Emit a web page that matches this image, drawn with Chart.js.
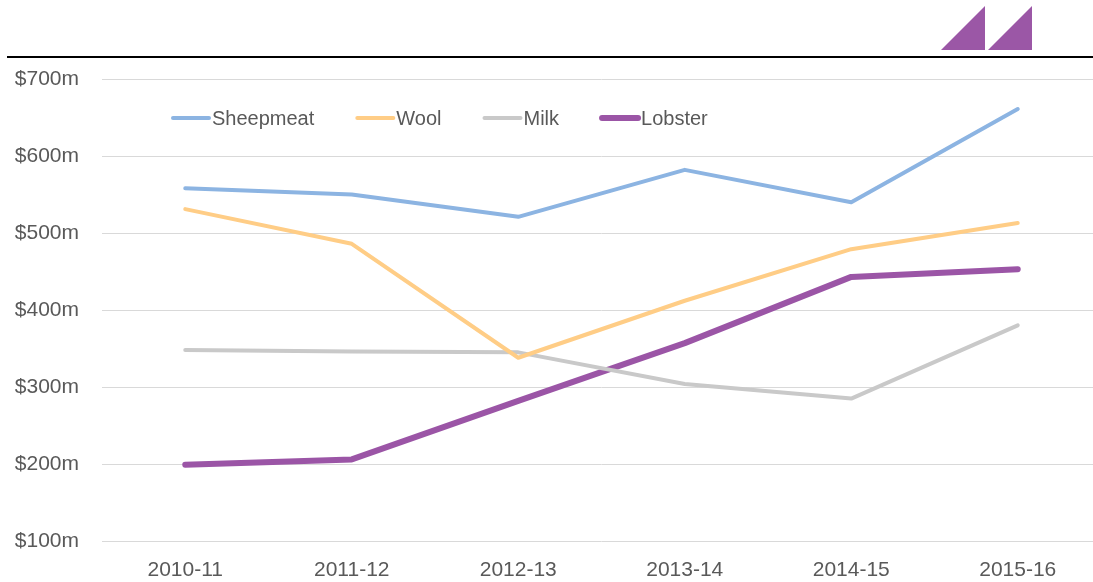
<!DOCTYPE html>
<html>
<head>
<meta charset="utf-8">
<script src="https://cdn.jsdelivr.net/npm/chart.js@4.4.1/dist/chart.umd.min.js"></script>
<style>
  html, body { margin: 0; padding: 0; background: #fff; overflow: hidden; }
  body { width: 1093px; height: 582px; position: relative; }
  #wrap { position: absolute; left: 0; top: 0; width: 1101px; height: 582px; }
  #rule { position: absolute; left: 7px; top: 56px; width: 1086px; height: 2px; background: #000; }
  #logo { position: absolute; left: 941px; top: 6px; }
</style>
</head>
<body>
<svg id="logo" width="94" height="46" viewBox="0 0 94 46">
  <polygon points="0,44 44,0 44,44" fill="#9b57a6"/>
  <polygon points="47,44 91,0 91,44" fill="#9b57a6"/>
</svg>
<div id="rule"></div>
<div id="wrap"><canvas id="chart"></canvas></div>
<script>
// ========== DATA ==========
const years = ["2010-11", "2011-12", "2012-13", "2013-14", "2014-15", "2015-16"];
const sheepmeat = [558, 550, 521, 582, 540, 661];
const wool      = [531, 486, 338, 412, 479, 513];
const milk      = [348, 346, 345, 304, 285, 380];
const lobster   = [199, 206, 282, 357, 443, 453];
const yTicks    = [100, 200, 300, 400, 500, 600, 700];

const FONT = "'Liberation Sans', Arial, sans-serif";
const TEXT = "#595959";

// ── legend drawn inside the plot, one row, lines + labels ───────────────────
const inlineLegend = {
  id: "inlineLegend",
  afterDatasetsDraw(chart) {
    const ctx = chart.ctx;
    let x = 173;
    const y = 118;
    ctx.save();
    ctx.font = "20px " + FONT;
    ctx.textBaseline = "middle";
    ctx.lineCap = "round";
    chart.data.datasets.forEach((ds) => {
      ctx.strokeStyle = ds.borderColor;
      ctx.lineWidth = ds.borderWidth;
      ctx.beginPath();
      ctx.moveTo(x, y);
      ctx.lineTo(x + 36, y);
      ctx.stroke();
      ctx.fillStyle = TEXT;
      ctx.fillText(ds.label, x + 39, y + 1);
      x += 39 + ctx.measureText(ds.label).width + 43;
    });
    ctx.restore();
  },
};

function series(label, data, color, width) {
  return {
    label,
    data,
    borderColor: color,
    backgroundColor: color,
    borderWidth: width,
    borderCapStyle: "round",
    borderJoinStyle: "round",
    pointRadius: 0,
    pointHoverRadius: 0,
    tension: 0,
    fill: false,
  };
}

new Chart(document.getElementById("chart"), {
  type: "line",
  data: {
    labels: years,
    datasets: [
      series("Sheepmeat", sheepmeat, "#8cb4e2", 4),
      series("Wool", wool, "#ffcd86", 4),
      series("Milk", milk, "#c9c9c9", 4),
      series("Lobster", lobster, "#9b55a6", 6),
    ],
  },
  options: {
    responsive: true,
    maintainAspectRatio: false,
    animation: false,
    layout: { padding: { top: 79, right: 0, bottom: 0, left: 0 } },
    plugins: {
      legend: { display: false },
      tooltip: { enabled: false },
    },
    scales: {
      x: {
        offset: true,
        grid: { display: false, drawTicks: false },
        border: { display: false },
        ticks: {
          color: TEXT,
          font: { family: FONT, size: 21 },
          padding: 17,
          maxRotation: 0,
          autoSkip: false,
        },
        afterFit(scale) { scale.height = 41; },
      },
      y: {
        min: 100,
        max: 700,
        afterBuildTicks(scale) { scale.ticks = yTicks.map((v) => ({ value: v })); },
        grid: { color: "#d9d9d9", lineWidth: 1, drawTicks: false },
        border: { display: false },
        ticks: {
          color: TEXT,
          font: { family: FONT, size: 21 },
          padding: 23,
          callback: (v) => "$" + v + "m",
        },
        afterFit(scale) { scale.width = 102; },
      },
    },
  },
  plugins: [inlineLegend],
});
</script>
</body>
</html>
